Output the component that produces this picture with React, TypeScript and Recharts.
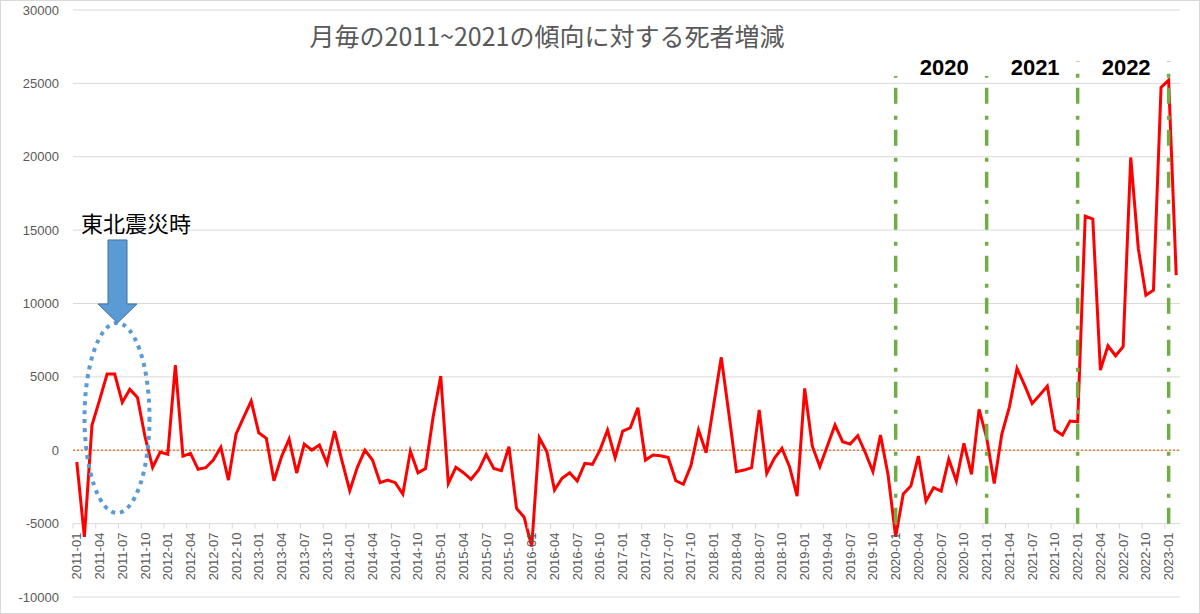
import React from 'react';
import {
    LineChart,
    Line,
    XAxis,
    YAxis,
    CartesianGrid,
    ReferenceLine,
    ReferenceDot
} from 'recharts';

// monthly change in deaths against the 2011~2021 trend, one array per year
const years = [2011, 2012, 2013, 2014, 2015, 2016, 2017, 2018, 2019, 2020, 2021, 2022, 2023];
const change2011 = [-800, -5900, 1700, 3420, 5190, 5190, 3260, 4150, 3600, 920, -1170, -120];
const change2012 = [-280, 5800, -400, -210, -1300, -1190, -670, 200, -2030, 1100, 2240, 3350];
const change2013 = [1190, 810, -2080, -440, 760, -1550, 420, 10, 350, -890, 1310, -780];
const change2014 = [-2760, -1160, 10, -670, -2210, -2030, -2210, -2980, -55, -1530, -1240, 2280];
const change2015 = [5050, -2260, -1160, -1530, -1980, -1350, -280, -1240, -1390, 240, -3960, -4570];
const change2016 = [-6550, 850, -100, -2710, -1910, -1530, -2100, -890, -960, 10, 1380, -510];
const change2017 = [1310, 1530, 2900, -670, -330, -370, -490, -2080, -2320, -1050, 1380, -170];
const change2018 = [3100, 6330, 2500, -1460, -1350, -1190, 2740, -1570, -550, 130, -1120, -3120];
const change2019 = [4220, 290, -1120, 300, 1720, 580, 420, 990, -170, -1460, 1030, -1690];
const change2020 = [-5900, -2980, -2440, -400, -3460, -2550, -2780, -600, -2100, 470, -1640, 2790];
const change2021 = [850, -2260, 1100, 2960, 5580, 4440, 3190, 3760, 4370, 1380, 1030, 1990];
const change2022 = [1940, 15950, 15750, 5460, 7120, 6440, 7050, 19950, 13750, 10570, 10910, 24720];
const change2023 = [25220, 11930];
const changesByYear = [
    change2011, change2012, change2013, change2014, change2015, change2016, change2017,
    change2018, change2019, change2020, change2021, change2022, change2023
];

const yTicks = [-10000, -5000, 0, 5000, 10000, 15000, 20000, 25000, 30000];
const yearStarts = ['2020-01', '2021-01', '2022-01', '2023-01'];
const yearNames = ['2020', '2021', '2022'];
const yearMids = ['2020-07', '2021-07', '2022-07'];

const chartData = years.flatMap((year, i) =>
    changesByYear[i].map((value, m) => ({
        month: `${year}-${String(m + 1).padStart(2, '0')}`,
        value
    }))
);

const WIDTH = 1200;
const HEIGHT = 614;
const X_AXIS_H = 17;
const MARGIN = { top: 10, right: 20, bottom: 0, left: 0 };
const Y_AXIS_W = 73;
const PLOT_H = HEIGHT - MARGIN.top - MARGIN.bottom - X_AXIS_H;
const PLOT_BOTTOM = HEIGHT - MARGIN.bottom - X_AXIS_H;
const BAND = (WIDTH - MARGIN.right - MARGIN.left - Y_AXIS_W) / chartData.length;
// the category axis crosses the value axis at -5000, not at the bottom
const AXIS_Y = PLOT_BOTTOM - PLOT_H * (5000 / 40000);

const FONT = '"Liberation Sans", Arial, sans-serif';
const JP_FONT = '"Noto Sans CJK JP", "Noto Sans", sans-serif';

const MonthTick = ({ x, payload }: any) => (
    <g>
        <line x1={x - BAND / 2} x2={x - BAND / 2} y1={AXIS_Y} y2={AXIS_Y + 5} stroke="#d9d9d9" />
        <text
            transform={`translate(${x + 4.5},${AXIS_Y + 9}) rotate(-90)`}
            textAnchor="end"
            fontSize={13}
            fontFamily={FONT}
            fill="#595959"
        >
            {payload.value}
        </text>
    </g>
);

// arrow + dotted ring around the 2011 earthquake months
const QuakeNote = ({ cx, cy }: any) => (
    <g>
        <ellipse cx={cx + 2.3} cy={cy} rx={32.5} ry={95} fill="none" stroke="#5B9BD5" strokeWidth={4} strokeDasharray="4 5" />
        <path
            d={`M${cx - 6.7},${cy - 178} L${cx + 12.3},${cy - 178} L${cx + 12.3},${cy - 114} L${cx + 22.3},${cy - 114} L${cx + 2.8},${cy - 95} L${cx - 16.7},${cy - 114} L${cx - 6.7},${cy - 114} Z`}
            fill="#5B9BD5"
            stroke="#41719C"
            strokeWidth={1}
        />
        <text x={cx + 21.3} y={cy - 186} textAnchor="middle" fontSize={22} fontFamily={JP_FONT} fill="#000">
            東北震災時
        </text>
    </g>
);

const yearLabel = (text: string) => ({ cx, cy }: any) => (
    <text x={cx + 3} y={cy} textAnchor="middle" fontSize={22} fontWeight="bold" fontFamily={FONT} fill="#000">
        {text}
    </text>
);

const App: React.FC = () => {
    return (
        <div style={{ position: 'absolute', left: 0, top: 0, width: WIDTH, height: HEIGHT, background: '#fff' }}>
            <LineChart width={WIDTH} height={HEIGHT} data={chartData} margin={MARGIN}>
                <CartesianGrid vertical={false} stroke="#d9d9d9" />
                <XAxis
                    dataKey="month"
                    scale="band"
                    interval={2}
                    height={X_AXIS_H}
                    axisLine={false}
                    tickLine={false}
                    tick={<MonthTick />}
                />
                <YAxis
                    width={Y_AXIS_W}
                    domain={[-10000, 30000]}
                    ticks={yTicks}
                    axisLine={false}
                    tickLine={false}
                    tickMargin={8}
                    tick={{ fill: '#595959', fontSize: 13, fontFamily: FONT }}
                />
                <ReferenceLine y={0} stroke="#ED7D31" strokeWidth={1.5} strokeDasharray="2 2" />
                <Line
                    type="linear"
                    dataKey="value"
                    stroke="#FF0000"
                    strokeWidth={3}
                    dot={false}
                    isAnimationActive={false}
                />
                {yearStarts.map((m, i) => (
                    <ReferenceLine
                        key={m}
                        segment={[{ x: m, y: -5000 }, { x: m, y: i < 2 ? 25500 : 26500 }]}
                        stroke="#70AD47"
                        strokeWidth={3.5}
                        strokeDasharray="16 10 4 12"
                    />
                ))}
                {yearMids.map((m, i) => (
                    <ReferenceDot key={m} x={m} y={25600} r={0} shape={yearLabel(yearNames[i])} />
                ))}
                <ReferenceDot x="2011-06" y={2200} r={0} shape={QuakeNote} />
            </LineChart>
            <svg
                width={WIDTH}
                height={HEIGHT}
                style={{ position: 'absolute', left: 0, top: 0, pointerEvents: 'none' }}
            >
                <text x={547} y={46} textAnchor="middle" fontSize={25} fontFamily={JP_FONT} fill="#595959">
                    月毎の2011~2021の傾向に対する死者増減
                </text>
                <rect x={0.5} y={0.5} width={WIDTH - 1} height={HEIGHT - 1} fill="none" stroke="#d9d9d9" />
            </svg>
        </div>
    );
};

export default App;
